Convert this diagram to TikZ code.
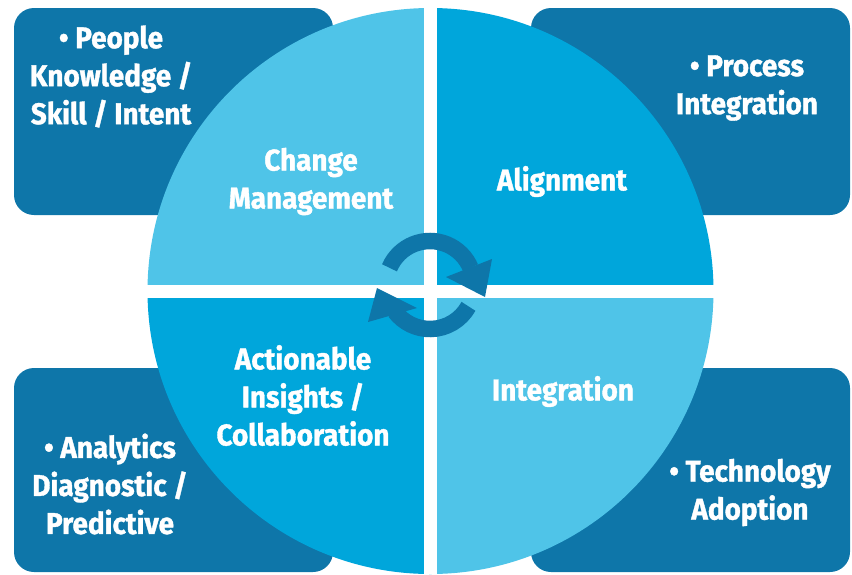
\documentclass[tikz,border=0pt]{standalone}
\usepackage{fontspec}
\newfontfamily\lblfamily{Fira Sans}[FakeStretch=0.93,FakeBold=1.2]
\definecolor{boxblue}{HTML}{0E76A9}
\definecolor{lightblue}{HTML}{4FC4E8}
\definecolor{midblue}{HTML}{00A6DB}
\definecolor{arrowblue}{HTML}{0E76A9}
\tikzset{
  box/.style={fill=boxblue, rounded corners=20pt},
  lbl/.style={text=white, align=center, inner sep=0pt,
    font=\lblfamily\bfseries\fontsize{30}{38}\selectfont},
  ring/.style={draw=arrowblue, line width=16.5pt},
  head/.style={fill=arrowblue}
}
\begin{document}
\begin{tikzpicture}[x=1pt,y=-1pt]
\useasboundingbox (0,0) rectangle (852,574);
% corner boxes
\fill[box] (14,8) rectangle (333,215);
\fill[box] (531,8) rectangle (850,215);
\fill[box] (14,368) rectangle (333,572);
\fill[box] (531,368) rectangle (850,572);
% circle quadrants
\coordinate (c) at (430.5,291);
\fill[lightblue] (c) -- ++(180:283) arc[start angle=180, end angle=270, radius=283] -- cycle;
\fill[midblue] (c) -- ++(270:283) arc[start angle=270, end angle=360, radius=283] -- cycle;
\fill[lightblue] (c) -- ++(0:283) arc[start angle=0, end angle=90, radius=283] -- cycle;
\fill[midblue] (c) -- ++(90:283) arc[start angle=90, end angle=180, radius=283] -- cycle;
% white cross
\draw[white, line width=13pt] ([xshift=-290pt]c) -- ([xshift=290pt]c);
\draw[white, line width=13pt] (430.5,0) -- (430.5,574);
% cycle arrows
\coordinate (a) at (430,285);
\draw[ring] (a) ++(-157:44) arc[start angle=-157, end angle=-23, radius=44];
\fill[head] (446,277) -- (492,259) -- (485,297) -- cycle;
\draw[ring] (a) ++(29:44) arc[start angle=29, end angle=143, radius=44];
\fill[head] (417,308) -- (368,322) -- (377,288) -- cycle;
% labels
\node[lbl] (people) at (111,76.5) {• People\\Knowledge /\\Skill / Intent};
\node[lbl] (process) at (747,88) {• Process\\Integration};
\node[lbl] (analytics) at (110,484) {• Analytics\\Diagnostic /\\Predictive};
\node[lbl] (tech) at (750,492.5) {• Technology\\Adoption};
\node[lbl] (change) at (311,181.5) {Change\\Management};
\node[lbl] (align) at (562,181.5) {Alignment};
\node[lbl] (action) at (303,395.5) {Actionable\\Insights /\\Collaboration};
\node[lbl] (integ) at (563,391.5) {Integration};
\end{tikzpicture}
\end{document}
